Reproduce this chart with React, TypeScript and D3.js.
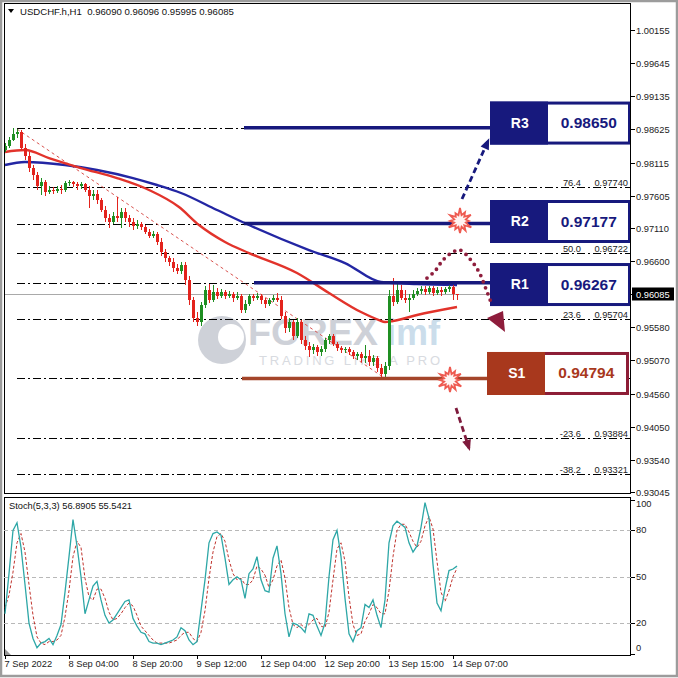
import React, { useEffect, useRef } from 'react';
import * as d3 from 'd3';

// USDCHF.h H1 candles (open of each bar = previous close)
const firstOpen = 0.9831;
const closes = [
  0.9837, 0.9846, 0.9855, 0.9858, 0.9834, 0.9822, 0.9803, 0.9792, 0.9775, 0.9781,
  0.9766, 0.9769, 0.9768, 0.9771, 0.9769, 0.978, 0.9781, 0.9778, 0.9775, 0.9778,
  0.9769, 0.976, 0.9763, 0.9754, 0.9739, 0.9726, 0.972, 0.9729, 0.9726, 0.9735,
  0.9726, 0.972, 0.9714, 0.9717, 0.9712, 0.9705, 0.9698, 0.9702, 0.9689, 0.9674,
  0.9665, 0.9658, 0.9649, 0.9645, 0.9654, 0.9631, 0.96, 0.9572, 0.9566, 0.9592,
  0.9615, 0.96, 0.9612, 0.9606, 0.9612, 0.9606, 0.9609, 0.9603, 0.9606, 0.9585,
  0.9594, 0.9606, 0.9603, 0.9606, 0.96, 0.9594, 0.96, 0.9603, 0.96, 0.9575,
  0.9557, 0.9566, 0.9545, 0.9566, 0.9538, 0.9529, 0.9523, 0.9528, 0.952, 0.9525,
  0.9538, 0.9545, 0.9532, 0.9526, 0.9523, 0.9525, 0.952, 0.9514, 0.9517, 0.9511,
  0.9514, 0.9505, 0.9511, 0.9495, 0.9486, 0.9498, 0.9606, 0.9597, 0.9615, 0.9603,
  0.96, 0.9603, 0.9609, 0.9614, 0.9617, 0.9612, 0.9618, 0.9611, 0.9615, 0.9612,
  0.9617, 0.962, 0.9609, 0.96085,
];
const highs = [
  0.9841, 0.9851, 0.9864, 0.9863, 0.9862, 0.984, 0.9828, 0.9808, 0.9797, 0.9788,
  0.9785, 0.9775, 0.9774, 0.9775, 0.9777, 0.9783, 0.9785, 0.9783, 0.9781, 0.9781,
  0.978, 0.9775, 0.9769, 0.9769, 0.9757, 0.9745, 0.9732, 0.9735, 0.9758, 0.9742,
  0.9742, 0.9731, 0.9726, 0.9723, 0.972, 0.9715, 0.9709, 0.9706, 0.9705, 0.9695,
  0.9678, 0.9668, 0.9665, 0.9655, 0.9658, 0.9658, 0.9637, 0.9605, 0.9582, 0.9597,
  0.9621, 0.9625, 0.9623, 0.9618, 0.9617, 0.9615, 0.9614, 0.9612, 0.9612, 0.9609,
  0.96, 0.9609, 0.9609, 0.9611, 0.9609, 0.9603, 0.9603, 0.9608, 0.9611, 0.9606,
  0.9582, 0.9572, 0.9569, 0.9572, 0.9569, 0.9545, 0.9535, 0.9532, 0.9531, 0.9529,
  0.9541, 0.9548, 0.9548, 0.9535, 0.9529, 0.9528, 0.9528, 0.9523, 0.952, 0.952,
  0.9531, 0.9523, 0.9515, 0.9514, 0.9502, 0.9505, 0.9615, 0.9634, 0.9625, 0.9623,
  0.9615, 0.9609, 0.9615, 0.9618, 0.9621, 0.9621, 0.9621, 0.9621, 0.962, 0.962,
  0.962, 0.9623, 0.9623, 0.96096,
];
const lows = [
  0.9828, 0.9834, 0.9845, 0.9849, 0.9831, 0.9815, 0.9797, 0.9785, 0.9769, 0.9761,
  0.976, 0.9763, 0.9763, 0.9764, 0.9763, 0.9766, 0.9775, 0.9774, 0.9769, 0.9771,
  0.9766, 0.9741, 0.9754, 0.9748, 0.9735, 0.972, 0.9711, 0.9717, 0.972, 0.9711,
  0.972, 0.9712, 0.9708, 0.9709, 0.9708, 0.9702, 0.9695, 0.9695, 0.9685, 0.9668,
  0.9658, 0.9652, 0.9643, 0.964, 0.964, 0.9623, 0.9592, 0.9566, 0.956, 0.956,
  0.9588, 0.9595, 0.9597, 0.9601, 0.9603, 0.9601, 0.9603, 0.9597, 0.96, 0.958,
  0.958, 0.9591, 0.9598, 0.96, 0.9594, 0.9588, 0.9591, 0.9597, 0.9597, 0.9571,
  0.9549, 0.9551, 0.9538, 0.9541, 0.9532, 0.9523, 0.9512, 0.9517, 0.9514, 0.9514,
  0.952, 0.9532, 0.9529, 0.9522, 0.9518, 0.9518, 0.9515, 0.9509, 0.9508, 0.9505,
  0.9503, 0.9498, 0.9498, 0.9489, 0.9481, 0.948, 0.9492, 0.9591, 0.9594, 0.96,
  0.9595, 0.9581, 0.96, 0.9606, 0.9609, 0.9608, 0.9609, 0.9606, 0.9608, 0.9606,
  0.9609, 0.9612, 0.96, 0.95995,
];

// moving averages: [bar, price]
const maRed: [number, number][] = [
  [0, 0.98278], [5, 0.98308], [11, 0.98185], [19, 0.98031], [28, 0.97877], [36, 0.97693],
  [43.5, 0.97431], [48.5, 0.97154], [55, 0.96893], [61, 0.96723], [73, 0.96416], [81, 0.96108],
  [89, 0.95815], [93.5, 0.95692], [95, 0.95661], [97, 0.95677], [103, 0.95769], [113, 0.95892],
];
const maBlue: [number, number][] = [
  [0, 0.98078], [5, 0.98124], [15, 0.98078], [23, 0.98001], [32, 0.97877], [38, 0.9777],
  [44, 0.97647], [53, 0.97385], [61, 0.97154], [76, 0.96769], [85, 0.96569], [94, 0.96277],
  [103, 0.96246], [113, 0.96231],
];
const trendLine: [number, number][] = [[3, 0.98631], [94.5, 0.94815]];

// Stochastic (5,3,3)
const stochK = [
  26, 52, 80, 85, 69, 45, 20, 10, 4, 7, 8, 10, 6, 12, 19, 40, 63, 87, 70, 50,
  26, 35, 44, 47, 35, 25, 20, 22, 26, 30, 34, 35, 23, 18, 14, 13, 8, 7, 7, 6,
  7, 8, 9, 11, 17, 15, 9, 6, 8, 28, 48, 72, 78, 79, 77, 62, 45, 48, 50, 48,
  36, 52, 55, 63, 48, 41, 40, 62, 70, 52, 26, 11, 20, 19, 17, 14, 26, 25, 18, 12,
  20, 50, 74, 80, 63, 36, 13, 8, 15, 17, 32, 30, 35, 25, 17, 35, 72, 83, 86, 84,
  82, 72, 66, 70, 82, 98, 88, 58, 33, 28, 42, 54, 55, 56.89,
];
const stochD = [
  30, 38, 53, 72, 78, 66, 45, 25, 11, 7, 6, 8, 8, 9, 12, 24, 41, 63, 73, 69,
  49, 37, 35, 42, 42, 36, 27, 22, 23, 26, 30, 33, 31, 25, 18, 15, 12, 9, 7, 7,
  7, 7, 8, 9, 12, 14, 14, 10, 8, 14, 28, 49, 66, 76, 78, 73, 61, 52, 48, 49,
  45, 45, 48, 57, 55, 51, 43, 48, 57, 61, 49, 30, 19, 17, 19, 17, 19, 22, 23, 18,
  17, 27, 48, 68, 72, 60, 37, 19, 12, 13, 21, 26, 32, 30, 26, 26, 41, 63, 80, 84,
  84, 79, 73, 69, 73, 83, 89, 81, 60, 40, 34, 41, 50, 55.54,
];

// Fibonacci retracement
const fibLevels = ['100.0', '76.4', '61.8', '50.0', '38.2', '23.6', '0.0', '-23.6', '-38.2', '-50.0'];
const fibPrices = [0.9865, 0.9774, 0.97177, 0.96722, 0.96267, 0.95704, 0.94794, 0.93884, 0.93321, 0.92866];
const fibStartBar = 3;

// support / resistance
const srNames = ['R3', 'R2', 'R1', 'S1'];
const srPrices = [0.9865, 0.97177, 0.96267, 0.94794];
const srBoxPrices = [0.98731, 0.97216, 0.96246, 0.94877];
const srStartBar = [59.75, 59.75, 62.25, 59.25];
const srEndBar = [121.25, 121.25, 121.25, 120.75];

// annotations [bar, price]
const upArrow: [number, number][] = [[114.25, 0.97554], [120.75, 0.98447]];
const downArrow: [number, number][] = [[112.75, 0.94338], [116, 0.93722]];
const bouncePath: [number, number][] = [
  [105.5, 0.96338], [107.5, 0.96446], [109.5, 0.96615], [112, 0.96739], [113.75, 0.96769],
  [116.25, 0.96631], [118.5, 0.96431], [120.25, 0.96169], [121.75, 0.95923],
];
const bounceHead: [number, number][] = [[120.5, 0.95723], [124.5, 0.95831], [125, 0.95508]];
const bursts: [number, number][] = [[113.75, 0.97216], [111.25, 0.94769]];

const priceTicks = [1.00155, 0.99645, 0.99135, 0.98625, 0.98115, 0.97605, 0.9711, 0.966, 0.9609, 0.9558, 0.9507, 0.9456, 0.9405, 0.9354, 0.93045];
const lastPrice = 0.96085;
const timeTickBars = [0, 16, 32, 48, 64, 80, 96, 112];
const timeTickLabels = ['7 Sep 2022', '8 Sep 04:00', '8 Sep 20:00', '9 Sep 12:00', '12 Sep 04:00', '12 Sep 20:00', '13 Sep 15:00', '14 Sep 07:00'];
const stochTicks = [100, 80, 50, 20, 0];
const stochLevels = [80, 50, 20];

const FONT = "'Liberation Sans', Arial, sans-serif";
const NAVY = '#17197d';
const FS = 9.3;

export default function App() {
  const ref = useRef<SVGSVGElement>(null);

  useEffect(() => {
    if (!ref.current) return;
    document.body.style.margin = '0';
    const svg = d3.select(ref.current);
    svg.selectAll('*').remove();

    const L = 4, R = 631, T = 3, B = 493, ST = 497, SB = 655;
    const x = d3.scaleLinear().domain([0, 156.5]).range([5, 631]);
    const y = d3.scaleLinear().domain([0.9303, 1.00571]).range([493, 3]);
    const ys = d3.scaleLinear().domain([0, 100]).range([653.9, 499.6]);

    svg.append('rect').attr('width', 678).attr('height', 678).attr('fill', '#fff');
    // outer grey window edge
    svg.append('rect').attr('x', 1).attr('y', 1).attr('width', 676).attr('height', 675)
      .attr('fill', 'none').attr('stroke', '#9c9c9c').attr('stroke-width', 2.5);

    const defs = svg.append('defs');
    defs.append('clipPath').attr('id', 'mainClip').append('rect')
      .attr('x', L).attr('y', T).attr('width', R - L).attr('height', B - T + 3);
    defs.append('clipPath').attr('id', 'stClip').append('rect')
      .attr('x', L).attr('y', ST).attr('width', R - L).attr('height', SB - ST);

    const main = svg.append('g').attr('clip-path', 'url(#mainClip)');

    // watermark
    const wm = main.append('g').attr('opacity', 0.85);
    wm.append('circle').attr('cx', 222).attr('cy', 340).attr('r', 24).attr('fill', '#c6cad2');
    wm.append('circle').attr('cx', 231).attr('cy', 337).attr('r', 13).attr('fill', '#fff');
    wm.append('text').attr('x', 248).attr('y', 345).attr('font-family', FONT).attr('font-weight', 'bold')
      .attr('font-size', 36).attr('textLength', 130).attr('lengthAdjust', 'spacingAndGlyphs')
      .attr('fill', '#c6cad2').text('FOREX');
    wm.append('text').attr('x', 386).attr('y', 345).attr('font-family', FONT).attr('font-weight', 'bold')
      .attr('font-size', 36).attr('textLength', 54).attr('lengthAdjust', 'spacingAndGlyphs')
      .attr('fill', '#c2d8e8').text('imf');
    wm.append('text').attr('x', 259).attr('y', 365).attr('font-family', FONT)
      .attr('font-size', 13).attr('textLength', 181).attr('lengthAdjust', 'spacing')
      .attr('fill', '#d2d5db').text('TRADING LIKE A PRO');

    // fibonacci lines (labels under the level boxes are hidden in the original)
    fibPrices.forEach((p, k) => {
      const yy = Math.round(y(p)) + 0.5;
      main.append('line').attr('x1', x(fibStartBar)).attr('x2', R).attr('y1', yy).attr('y2', yy)
        .attr('stroke', '#000').attr('stroke-width', 1).attr('stroke-dasharray', '8,3,2,3');
      if (srPrices.includes(p)) return;
      main.append('text').attr('x', 581).attr('y', yy - 2).attr('text-anchor', 'end')
        .attr('font-family', FONT).attr('font-size', FS).attr('fill', '#222').text(fibLevels[k]);
      main.append('text').attr('x', 628).attr('y', yy - 2).attr('text-anchor', 'end')
        .attr('font-family', FONT).attr('font-size', FS).attr('fill', '#222').text(fibPrices[k].toFixed(5));
    });

    // last price line
    const ly = Math.round(y(lastPrice)) + 0.5;
    main.append('line').attr('x1', L).attr('x2', R).attr('y1', ly).attr('y2', ly)
      .attr('stroke', '#a9a9a9').attr('stroke-width', 1);

    // trend line
    main.append('line')
      .attr('x1', x(trendLine[0][0])).attr('y1', y(trendLine[0][1]))
      .attr('x2', x(trendLine[1][0])).attr('y2', y(trendLine[1][1]))
      .attr('stroke', '#d9534f').attr('stroke-width', 1).attr('stroke-dasharray', '3,3');

    // moving averages
    const maLine = d3.line<[number, number]>().x(d => x(d[0])).y(d => y(d[1])).curve(d3.curveMonotoneX);
    main.append('path').attr('d', maLine(maBlue)).attr('fill', 'none').attr('stroke', '#2326a3').attr('stroke-width', 2.4);
    main.append('path').attr('d', maLine(maRed)).attr('fill', 'none').attr('stroke', '#e2332b').attr('stroke-width', 2.4);

    // candles
    const bars = closes.map((c, i) => ({
      i, o: i === 0 ? firstOpen : closes[i - 1], h: highs[i], l: lows[i], c,
    }));
    const cg = main.append('g').attr('shape-rendering', 'crispEdges');
    bars.forEach(b => {
      const col = b.c >= b.o ? '#1f8f22' : '#e3231d';
      const cx = Math.round(x(b.i));
      cg.append('line').attr('x1', cx + 0.5).attr('x2', cx + 0.5).attr('y1', y(b.h)).attr('y2', y(b.l))
        .attr('stroke', col).attr('stroke-width', 1);
      const top = y(Math.max(b.o, b.c));
      const hgt = Math.max(1, Math.abs(y(b.o) - y(b.c)));
      cg.append('rect').attr('x', cx - 1).attr('y', top).attr('width', 3).attr('height', hgt).attr('fill', col);
    });

    // support / resistance lines and boxes
    srNames.forEach((name, k) => {
      const isS = name.startsWith('S');
      const lineCol = isS ? '#a4452a' : NAVY;
      const yy = y(srPrices[k]);
      main.append('line').attr('x1', x(srStartBar[k])).attr('x2', x(srEndBar[k])).attr('y1', yy).attr('y2', yy)
        .attr('stroke', lineCol).attr('stroke-width', 3.5);
      const cy = y(srBoxPrices[k]);
      const bx = isS ? 488.5 : 491.5;
      const bw = isS ? 139 : 138;
      const split = isS ? 545 : 548;
      const border = isS ? '#8d1d36' : NAVY;
      const fill = isS ? '#a8381d' : NAVY;
      main.append('rect').attr('x', bx).attr('y', cy - 19.5).attr('width', bw).attr('height', 40)
        .attr('fill', '#fff').attr('stroke', border).attr('stroke-width', 3);
      main.append('rect').attr('x', bx - 1.5).attr('y', cy - 21).attr('width', split - bx + 1.5).attr('height', 43)
        .attr('fill', fill);
      main.append('text').attr('x', (bx + split) / 2).attr('y', cy + 5).attr('text-anchor', 'middle')
        .attr('font-family', FONT).attr('font-weight', 'bold').attr('font-size', 14).attr('fill', '#fff').text(name);
      main.append('text').attr('x', (split + bx + bw) / 2).attr('y', cy + 5.5).attr('text-anchor', 'middle')
        .attr('font-family', FONT).attr('font-weight', 'bold').attr('font-size', 15.5)
        .attr('fill', isS ? '#a8381d' : NAVY).text(srPrices[k].toFixed(5));
    });

    // arrows
    const arrowHead = (g: any, p0: number[], p1: number[], col: string, len: number, half: number) => {
      const dx = p1[0] - p0[0], dy = p1[1] - p0[1];
      const n = Math.hypot(dx, dy);
      const ux = dx / n, uy = dy / n;
      const bxp = p1[0] - ux * len, byp = p1[1] - uy * len;
      g.append('path')
        .attr('d', `M${p1[0] + ux * 3},${p1[1] + uy * 3}L${bxp - uy * half},${byp + ux * half}L${bxp + uy * half},${byp - ux * half}Z`)
        .attr('fill', col);
    };
    const ann = main.append('g');
    const up0 = [x(upArrow[0][0]), y(upArrow[0][1])], up1 = [x(upArrow[1][0]), y(upArrow[1][1])];
    ann.append('line').attr('x1', up0[0]).attr('y1', up0[1]).attr('x2', up1[0]).attr('y2', up1[1])
      .attr('stroke', NAVY).attr('stroke-width', 2.8).attr('stroke-dasharray', '6,3.5');
    arrowHead(ann, up0, up1, NAVY, 8, 4.5);

    const dn0 = [x(downArrow[0][0]), y(downArrow[0][1])], dn1 = [x(downArrow[1][0]), y(downArrow[1][1])];
    ann.append('line').attr('x1', dn0[0]).attr('y1', dn0[1]).attr('x2', dn1[0]).attr('y2', dn1[1])
      .attr('stroke', '#7e1a3c').attr('stroke-width', 2.8).attr('stroke-dasharray', '6,3.5');
    arrowHead(ann, dn0, dn1, '#7e1a3c', 8, 4.5);

    const bLine = d3.line<[number, number]>().x(d => x(d[0])).y(d => y(d[1])).curve(d3.curveCatmullRom);
    ann.append('path').attr('d', bLine(bouncePath)).attr('fill', 'none').attr('stroke', '#8e1d3c')
      .attr('stroke-width', 3.8).attr('stroke-linecap', 'round').attr('stroke-dasharray', '0,6.5');
    ann.append('path')
      .attr('d', 'M' + bounceHead.map(d => `${x(d[0])},${y(d[1])}`).join('L') + 'Z')
      .attr('fill', '#8e1d3c');

    const spikes = [13, 10, 12.5, 9, 13, 11, 12, 9.5, 13, 10, 11.5, 9];
    bursts.forEach(bp => {
      const cx = x(bp[0]), cy = y(bp[1]);
      const pts: string[] = [];
      spikes.forEach((r, k) => {
        const a0 = (k / spikes.length) * Math.PI * 2 - Math.PI / 2;
        const a1 = a0 + Math.PI / spikes.length;
        pts.push(`${cx + r * Math.cos(a0)},${cy + r * Math.sin(a0)}`);
        pts.push(`${cx + 6 * Math.cos(a1)},${cy + 6 * Math.sin(a1)}`);
      });
      ann.append('path').attr('d', 'M' + pts.join('L') + 'Z')
        .attr('fill', '#fff4f2').attr('stroke', '#ee5a50').attr('stroke-width', 1.8);
    });

    // panel frames
    svg.append('rect').attr('x', L + 0.5).attr('y', T + 0.5).attr('width', R - L - 1).attr('height', B - T)
      .attr('fill', 'none').attr('stroke', '#000');
    svg.append('rect').attr('x', L + 0.5).attr('y', ST + 0.5).attr('width', R - L - 1).attr('height', SB - ST)
      .attr('fill', 'none').attr('stroke', '#000');

    // header
    svg.append('path').attr('d', 'M8,9L14,9L11,13Z').attr('fill', '#000');
    svg.append('text').attr('x', 20).attr('y', 15).attr('font-family', FONT).attr('font-size', 9.6)
      .attr('fill', '#111').attr('xml:space', 'preserve')
      .text('USDCHF.h,H1  0.96090 0.96096 0.95995 0.96085');

    // price axis
    priceTicks.forEach(p => {
      const yy = Math.round(y(p)) + 0.5;
      svg.append('line').attr('x1', R).attr('x2', R + 4).attr('y1', yy).attr('y2', yy).attr('stroke', '#000');
      svg.append('text').attr('x', 636).attr('y', yy + 3).attr('font-family', FONT).attr('font-size', FS)
        .attr('fill', '#222').text(p.toFixed(5));
    });
    svg.append('rect').attr('x', 632).attr('y', ly - 7).attr('width', 42).attr('height', 13).attr('fill', '#000');
    svg.append('text').attr('x', 636).attr('y', ly + 3).attr('font-family', FONT).attr('font-size', FS)
      .attr('fill', '#fff').text(lastPrice.toFixed(5));

    // stochastic panel
    const st = svg.append('g').attr('clip-path', 'url(#stClip)');
    stochLevels.forEach(v => {
      const yy = Math.round(ys(v)) + 0.5;
      st.append('line').attr('x1', L).attr('x2', R).attr('y1', yy).attr('y2', yy)
        .attr('stroke', '#b8b8b8').attr('stroke-dasharray', '4,3');
    });
    const sLine = d3.line<number>().x((_, i) => x(i)).y(d => ys(d));
    st.append('path').attr('d', sLine(stochD)).attr('fill', 'none').attr('stroke', '#c0332d')
      .attr('stroke-width', 1).attr('stroke-dasharray', '3,2');
    st.append('path').attr('d', sLine(stochK)).attr('fill', 'none').attr('stroke', '#2ea7a7')
      .attr('stroke-width', 1.3);
    svg.append('path').attr('d', 'M5,649L5,655L11,655Z').attr('fill', '#9a9a9a');
    svg.append('text').attr('x', 9).attr('y', 509).attr('font-family', FONT).attr('font-size', FS)
      .attr('fill', '#111').text('Stoch(5,3,3) 56.8905 55.5421');
    stochTicks.forEach(v => {
      const yy = Math.min(648, Math.max(504, ys(v)));
      svg.append('line').attr('x1', R).attr('x2', R + 4).attr('y1', Math.round(ys(v)) + 0.5).attr('y2', Math.round(ys(v)) + 0.5)
        .attr('stroke', '#000');
      svg.append('text').attr('x', 636).attr('y', yy + 3).attr('font-family', FONT).attr('font-size', FS)
        .attr('fill', '#222').text(String(v));
    });

    // time axis
    timeTickBars.forEach((b, k) => {
      const xx = Math.round(x(b)) + 0.5;
      svg.append('line').attr('x1', xx).attr('x2', xx).attr('y1', SB).attr('y2', SB + 4).attr('stroke', '#000');
      svg.append('text').attr('x', xx - 1).attr('y', 667).attr('font-family', FONT).attr('font-size', FS)
        .attr('fill', '#222').text(timeTickLabels[k]);
    });
  }, []);

  return <svg ref={ref} width={678} height={678} style={{ display: 'block' }} />;
}
